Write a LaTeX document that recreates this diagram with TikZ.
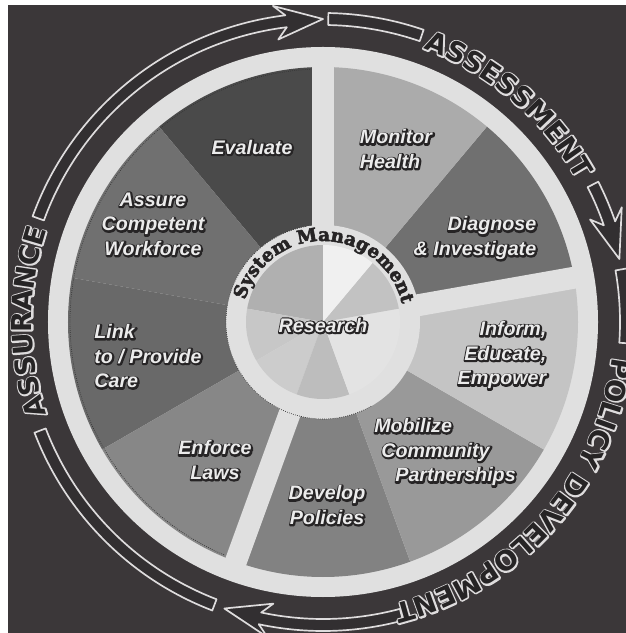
\documentclass[tikz,border=0pt]{standalone}
\usepackage{fontspec}
\usetikzlibrary{decorations.text}
\newfontfamily\ringfont{DejaVu Sans Bold}
\newfontfamily\ringhalo{DejaVu Sans Bold}[FakeBold=11]
\newfontfamily\labelfont{Liberation Sans Bold Italic}
\newfontfamily\labelhalo{Liberation Sans Bold Italic}[FakeBold=16]
\newfontfamily\hubfont{DejaVu Serif Bold}[FakeBold=3]

\definecolor{backdrop}{RGB}{59,55,57}
\definecolor{trackfill}{RGB}{50,47,49}
\definecolor{rimgray}{RGB}{224,224,224}
\definecolor{edgegray}{RGB}{222,220,221}
\definecolor{inkdark}{RGB}{38,36,37}

\newcommand{\wedgepath}[4]{(#1:#3) -- (#1:#4) arc[start angle=#1, end angle=#2, radius=#4] -- (#2:#3) arc[start angle=#2, end angle=#1, radius=#3] -- cycle}
\newcommand{\bandpath}[2]{(#1:309) arc[start angle=#1, end angle=#2, radius=309] -- (#2:297) arc[start angle=#2, end angle=#1, radius=297] -- cycle}
\newcommand{\arrowpath}[2]{(#1:309) arc[start angle=#1, end angle=#2+7, radius=309] -- (#2+9:320) -- (#2:303) -- (#2+9:286) -- (#2+7:297) arc[start angle=#2+7, end angle=#1, radius=297] -- cycle}
\newcommand{\ringlabel}[3]{%
  \foreach \fnt/\ink in {\ringhalo/edgegray, \ringfont/inkdark}
    \path[decorate, decoration={text along path, text align=center,
      text={|\fnt\fontsize{19.5}{21}\selectfont\color{\ink}|#3}}]
      (#1+#2:291) arc[start angle=#1+#2, end angle=#1-#2, radius=291];}

\tikzset{%
  track/.style    = {fill=trackfill, draw=edgegray, line width=1.2pt},%
  seglabel/.style = {font=\labelfont\fontsize{14}{17.5}\selectfont, text=black!8, inner sep=0pt},%
  seghalo/.style  = {seglabel, font=\labelhalo\fontsize{14}{17.5}\selectfont, text=inkdark,
                     xshift=0.4pt, yshift=-0.4pt},%
  dotline/.style  = {densely dotted, line width=0.5pt, black!80}%
}

\begin{document}
\begin{tikzpicture}[scale=0.025, line join=round]
\useasboundingbox (-323,-311) rectangle (303,322);
\clip (-323,-311) rectangle (303,322);
\fill[white] (-323,-311) rectangle (303,322);
\fill[backdrop] (-315,-311) rectangle (303,317);

\fill[rimgray] (0,0) circle[radius=275];
\foreach \a/\b/\tone in {90/130/71, 130/170/56, 170/210/59, 210/250/47, 250/290/49,
                         290/330/40, 330/370/23, 10/50/56, 50/90/33}
  \fill[black!\tone] \wedgepath{\a}{\b}{96}{255};
\foreach \a in {90,10,250}
  \draw[rimgray, line width=15.6pt] (\a:90) -- (\a:262);
\draw[dotline] (93:253) arc[start angle=93, end angle=247, radius=253];
\fill[rimgray] (0,0) circle[radius=97];
\draw[dotline] (100:97) arc[start angle=100, end angle=300, radius=97];
\foreach \a/\b/\tone in {90/170/31, 170/210/22, 210/250/20, 250/290/26,
                         290/370/11, 10/50/24, 50/90/6}
  \fill[black!\tone] (0,0) -- (\a:77) arc[start angle=\a, end angle=\b, radius=77] -- cycle;

\draw[track] \arrowpath{160}{90};
\draw[track] \bandpath{89}{71};
\draw[track] \arrowpath{27}{12};
\draw[track] \bandpath{10}{-4};
\draw[track] \arrowpath{-75}{-109};
\draw[track] \bandpath{249}{201};

\ringlabel{49.5}{45}{ASSESSMENT}
\ringlabel{-41.5}{55}{POLICY DEVELOPMENT}
\ringlabel{180}{45}{ASSURANCE}

\path[decorate, decoration={text along path, text align=center,
  text={|\hubfont\fontsize{13}{14}\selectfont\color{inkdark}|System Management}}]
  (179:81) arc[start angle=179, end angle=-2, radius=81];

\foreach \name/\px/\py/\al/\txt in {
    evaluate/-71/175/center/Evaluate,
    monitor/73/173/left/{Monitor\\Health},
    diagnose/152/84/right/{Diagnose\\\& Investigate},
    inform/179/-33/right/{Inform,\\Educate,\\Empower},
    mobilize/122/-130/left/{Mobilize\\\hspace*{5pt}Community\\\hspace*{15pt}Partnerships},
    develop/4/-183/center/{Develop\\Policies},
    enforce/-108/-138/center/{Enforce\\Laws},
    link/-175/-34/left/{Link\\to / Provide\\Care},
    assure/-170/98/center/{Assure\\Competent\\Workforce},
    research/0/-3/center/Research}
{
  \node[seghalo, align=\al] at (\px,\py) {\txt};
  \node[seglabel, align=\al] (\name) at (\px,\py) {\txt};
}
\end{tikzpicture}
\end{document}
